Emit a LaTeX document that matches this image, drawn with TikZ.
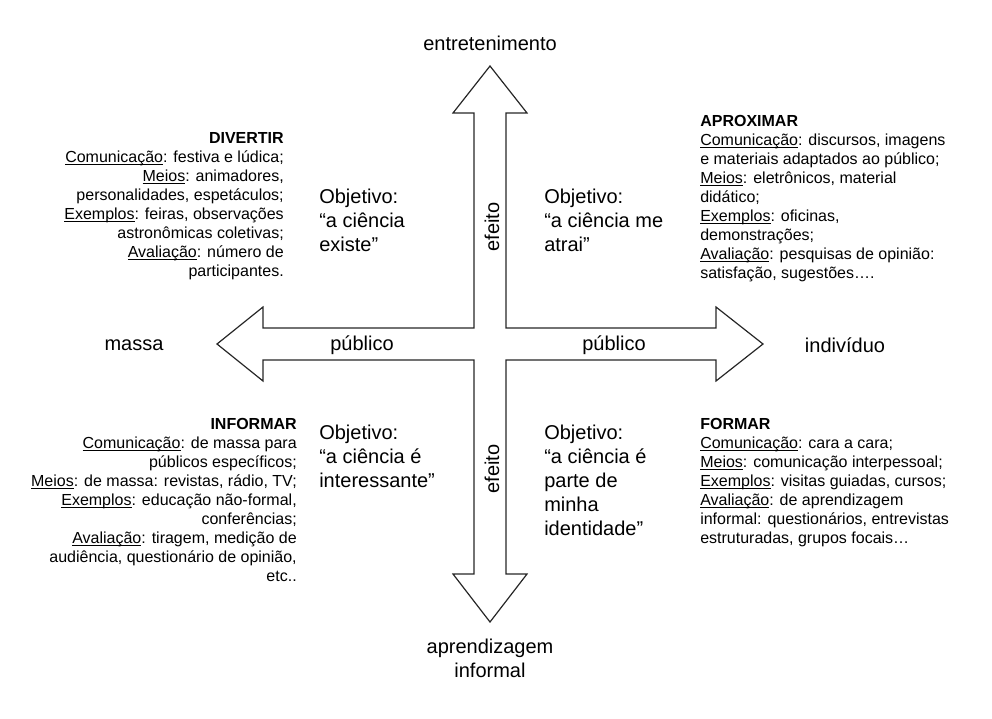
\documentclass[tikz,border=0pt]{standalone}
\usepackage{fontspec}
\setmainfont{Liberation Sans}
\newsavebox{\campobox}
\newcommand{\campo}[1]{\sbox{\campobox}{#1}\rlap{\vrule height -1.3pt depth 2.0pt width \wd\campobox}\usebox{\campobox}}

\begin{document}
\begin{tikzpicture}[
        x=0.75pt, y=-0.75pt,
        cross/.style={draw=black!85, line width=0.9pt, line join=miter},
        pole/.style={font=\fontsize{15}{18}\selectfont, inner sep=0pt},
        goal/.style={font=\fontsize{15}{18}\selectfont, align=left, inner sep=0pt, anchor=north west},
        infoleft/.style={font=\fontsize{12}{14.25}\selectfont, align=left, inner sep=0pt, anchor=north west},
        inforight/.style={font=\fontsize{12}{14.25}\selectfont, align=right, inner sep=0pt, anchor=north east}
    ]
    \useasboundingbox (0,0) rectangle (992,718);

    % four-way arrow
    \draw[cross] (490,66) -- (527,113) -- (506,113) -- (506,328) -- (716,328) -- (716,307)
        -- (763,344) -- (716,381) -- (716,360) -- (506,360) -- (506,574) -- (527,574)
        -- (490,622) -- (453,574) -- (474,574) -- (474,360) -- (263,360) -- (263,381)
        -- (217,344) -- (263,307) -- (263,328) -- (474,328) -- (474,113) -- (453,113) -- cycle;

    % poles and axis names
    \node[pole] (ent) at (490,43) {entretenimento};
    \node[pole, align=center] (apr) at (490,658) {aprendizagem\\informal};
    \node[pole] (massa) at (134,345) {massa};
    \node[pole] (indiv) at (845,345) {indivíduo};
    \node[pole] (publeft) at (362,345) {público};
    \node[pole] (pubright) at (614,345) {público};
    \node[pole, rotate=90] (efup) at (492,227) {efeito};
    \node[pole, rotate=90] (efdown) at (492,469) {efeito};

    % objectives
    \node[goal] (objdiv) at (319,189) {Objetivo:\\“a ciência\\existe”};
    \node[goal] (objapr) at (544,189) {Objetivo:\\“a ciência me\\atrai”};
    \node[goal] (objinf) at (319,425) {Objetivo:\\“a ciência é\\interessante”};
    \node[goal] (objfor) at (544,425) {Objetivo:\\“a ciência é\\parte de\\minha\\identidade”};

    % quadrant descriptions
    \node[inforight] (divertir) at (284,132) {\textbf{DIVERTIR}\\
        \campo{Comunicação}: festiva e lúdica;\\
        \campo{Meios}: animadores,\\
        personalidades, espetáculos;\\
        \campo{Exemplos}: feiras, observações\\
        astronômicas coletivas;\\
        \campo{Avaliação}: número de\\
        participantes.};
    \node[infoleft] (aproximar) at (700,115) {\textbf{APROXIMAR}\\
        \campo{Comunicação}: discursos, imagens\\
        e materiais adaptados ao público;\\
        \campo{Meios}: eletrônicos, material\\
        didático;\\
        \campo{Exemplos}: oficinas,\\
        demonstrações;\\
        \campo{Avaliação}: pesquisas de opinião:\\
        satisfação, sugestões….};
    \node[inforight] (informar) at (297,418) {\textbf{INFORMAR}\\
        \campo{Comunicação}: de massa para\\
        públicos específicos;\\
        \campo{Meios}: de massa: revistas, rádio, TV;\\
        \campo{Exemplos}: educação não-formal,\\
        conferências;\\
        \campo{Avaliação}: tiragem, medição de\\
        audiência, questionário de opinião,\\
        etc..};
    \node[infoleft] (formar) at (700,418) {\textbf{FORMAR}\\
        \campo{Comunicação}: cara a cara;\\
        \campo{Meios}: comunicação interpessoal;\\
        \campo{Exemplos}: visitas guiadas, cursos;\\
        \campo{Avaliação}: de aprendizagem\\
        informal: questionários, entrevistas\\
        estruturadas, grupos focais…};
\end{tikzpicture}
\end{document}
